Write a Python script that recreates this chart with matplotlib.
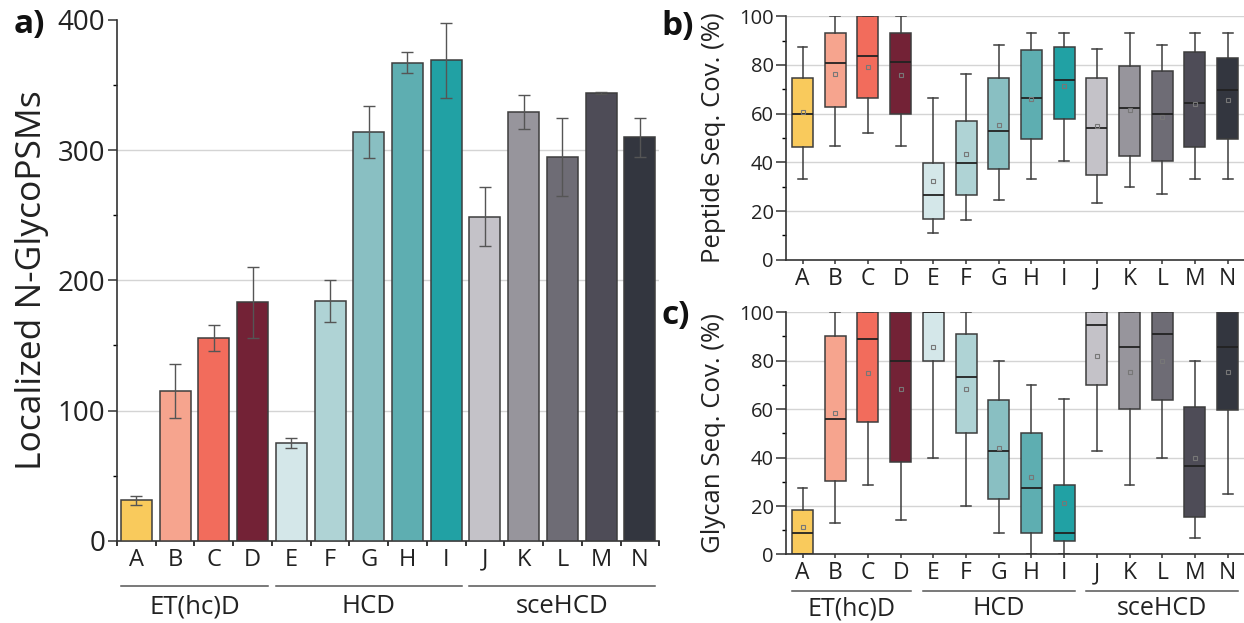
import numpy as np
import matplotlib
matplotlib.use("Agg")
from matplotlib import pyplot as plt
from matplotlib.ticker import MultipleLocator, FixedLocator
import matplotlib.transforms as mtransforms

plt.rcParams['font.family'] = ['Open Sans', 'DejaVu Sans']

labels = list("ABCDEFGHIJKLMN")
groups = [("ET(hc)D", 0, 3), ("HCD", 4, 8), ("sceHCD", 9, 13)]
colors = ['#F9CA5C', '#F6A48E', '#F26C5C', '#732236',
          '#D4E7E9', '#AFD3D5', '#89BFC2', '#5EAEB1', '#21A1A4',
          '#C4C2C8', '#97959C', '#6E6C75', '#4E4C57', '#33363F']

# a) localized N-glycoPSMs (mean, sd)
psm_mean = [31, 115, 156, 183, 75, 184, 314, 367, 369, 249, 329, 295, 344, 310]
psm_err = [3.5, 21, 10, 27, 4, 16, 20, 8, 29, 23, 13, 30, 1, 15]

# b) peptide sequence coverage box stats
pep_whislo = [33, 46.8, 52, 46.6, 11, 16.4, 24.7, 33, 40.5, 23.3, 29.7, 27.1, 33, 33]
pep_q1 = [46.4, 62.6, 66.4, 59.7, 16.8, 26.4, 37.3, 49.7, 58, 34.8, 42.6, 40.5, 46.4, 49.7]
pep_med = [59.7, 80.7, 83.6, 81, 26.4, 39.7, 53, 66.3, 73.7, 54.2, 62.2, 59.7, 64.4, 69.7]
pep_q3 = [74.7, 93, 100, 93, 39.7, 56.8, 74.7, 86.3, 87.3, 74.7, 79.6, 77.5, 85.3, 83]
pep_whishi = [87.3, 100, 100, 100, 66.4, 76.2, 88, 93, 93, 86.4, 93, 88, 93, 93]
pep_mean = [60.7, 76.3, 79, 75.8, 32.2, 43.3, 55.5, 65.9, 71.2, 54.8, 61.4, 58.8, 63.8, 65.6]

# c) glycan sequence coverage box stats
gly_whislo = [0, 13, 28.7, 14.4, 40, 20, 9, 0, 0, 42.8, 28.7, 40, 6.7, 25.1]
gly_q1 = [0, 30.5, 54.6, 38.3, 80, 50, 23, 9, 5.6, 70, 60, 63.6, 15.4, 59.5]
gly_med = [9, 56, 88.9, 80, 100, 73.3, 42.8, 27.3, 9, 94.5, 85.7, 91, 36.4, 85.7]
gly_q3 = [18.2, 90, 100, 100, 100, 91, 63.6, 50, 28.5, 100, 100, 100, 61, 100]
gly_whishi = [27.3, 100, 100, 100, 101.4, 100, 80, 70, 64.3, 100, 100, 100, 80, 100]
gly_mean = [11.5, 58.2, 75, 68.3, 85.7, 68.3, 43.8, 32.1, 21.1, 81.8, 75.3, 80, 40, 75.3]

TXT = '#222222'
EDGE = '#3d3d3d'
GRID = '#d4d4d4'


def style_axis(ax, grid_vals):
    for s in ['top', 'right']:
        ax.spines[s].set_visible(False)
    for s in ['left', 'bottom']:
        ax.spines[s].set_color('#333333')
        ax.spines[s].set_linewidth(1.2)
    for g in grid_vals:
        ax.axhline(g, color=GRID, linewidth=1.0, zorder=0)
    ax.tick_params(colors='#333333', labelcolor=TXT)


def group_labels(ax, ypos_line, ypos_text, half, fs):
    trans = mtransforms.blended_transform_factory(ax.transData, ax.transAxes)
    for name, i0, i1 in groups:
        ax.plot([i0 - half, i1 + half], [ypos_line, ypos_line], color='#555555',
                lw=1.1, transform=trans, clip_on=False)
        ax.text((i0 + i1) / 2, ypos_text, name, transform=trans, ha='center',
                va='center', fontsize=fs, color=TXT)


def box_panel(ax, whislo, q1, med, q3, whishi, mean, ylabel):
    stats = []
    for i in range(len(labels)):
        stats.append(dict(whislo=whislo[i], q1=q1[i], med=med[i], q3=q3[i],
                          whishi=whishi[i], mean=mean[i], fliers=[]))
    x = np.arange(len(labels))
    bp = ax.bxp(stats, positions=x, widths=0.64, patch_artist=True, showmeans=True,
                showfliers=False,
                boxprops=dict(edgecolor=EDGE, linewidth=1.1),
                medianprops=dict(color='#222222', linewidth=1.3),
                whiskerprops=dict(color=EDGE, linewidth=1.1),
                capprops=dict(color=EDGE, linewidth=1.1),
                meanprops=dict(marker='s', markersize=3.5, markerfacecolor='none',
                               markeredgecolor='#777777', markeredgewidth=0.8))
    for patch, c in zip(bp['boxes'], colors):
        patch.set_facecolor(c)
    for cap in bp['caps']:
        mid = np.mean(cap.get_xdata())
        cap.set_xdata([mid - 0.15, mid + 0.15])
    style_axis(ax, [20, 40, 60, 80, 100])
    ax.set_xlim(-0.5, 13.5)
    ax.set_ylim(0, 100)
    ax.yaxis.set_major_locator(MultipleLocator(20))
    ax.yaxis.set_minor_locator(MultipleLocator(10))
    ax.set_xticks(x)
    ax.set_xticklabels(labels, fontsize=16.5)
    ax.tick_params(axis='x', length=3, width=1.1, pad=2)
    ax.tick_params(axis='y', which='major', length=7, width=1.1, labelsize=14.5, pad=2)
    ax.tick_params(axis='y', which='minor', length=3, width=1.0)
    ax.set_ylabel(ylabel, fontsize=18.5, color=TXT)
    ax.yaxis.set_label_coords(-0.131, 0.5)


fig = plt.figure(figsize=(12.44, 6.23), dpi=100)

# panel a
ax1 = fig.add_axes([0.094, 0.132, 0.436, 0.836])
xa = np.arange(len(labels))
ax1.bar(xa, psm_mean, width=0.8, color=colors, edgecolor=EDGE, linewidth=1.1,
        yerr=psm_err, error_kw=dict(ecolor='#555555', elinewidth=1.0, capsize=4,
                                    capthick=1.0), zorder=3)
style_axis(ax1, [100, 200, 300])
ax1.set_xlim(-0.5, 13.5)
ax1.set_ylim(0, 400)
ax1.yaxis.set_major_locator(MultipleLocator(100))
ax1.yaxis.set_minor_locator(MultipleLocator(50))
ax1.set_xticks(xa)
ax1.set_xticklabels(labels, fontsize=17)
ax1.xaxis.set_minor_locator(FixedLocator(np.arange(-0.5, 14, 1)))
ax1.tick_params(axis='x', which='major', length=0, pad=5)
ax1.tick_params(axis='x', which='minor', length=3.5, width=1.1)
ax1.tick_params(axis='y', which='major', length=6.5, width=1.1, labelsize=20, pad=2)
ax1.tick_params(axis='y', which='minor', length=3, width=1.0)
ax1.set_ylabel('Localized N-GlycoPSMs', fontsize=25.5, color=TXT)
ax1.yaxis.set_label_coords(-0.126, 0.5)
group_labels(ax1, -0.086, -0.127, 0.4, 18.5)

# panel b
ax2 = fig.add_axes([0.632, 0.583, 0.368, 0.391])
box_panel(ax2, pep_whislo, pep_q1, pep_med, pep_q3, pep_whishi, pep_mean,
          'Peptide Seq. Cov. (%)')

# panel c
ax3 = fig.add_axes([0.632, 0.110, 0.368, 0.389])
box_panel(ax3, gly_whislo, gly_q1, gly_med, gly_q3, gly_whishi, gly_mean,
          'Glycan Seq. Cov. (%)')
group_labels(ax3, -0.152, -0.225, 0.33, 18)

fig.text(0.011, 0.961, 'a)', fontsize=24, fontweight='bold', ha='left', va='center', color='#111111')
fig.text(0.532, 0.958, 'b)', fontsize=24, fontweight='bold', ha='left', va='center', color='#111111')
fig.text(0.532, 0.493, 'c)', fontsize=24, fontweight='bold', ha='left', va='center', color='#111111')

fig.savefig('out.png', dpi=100)
